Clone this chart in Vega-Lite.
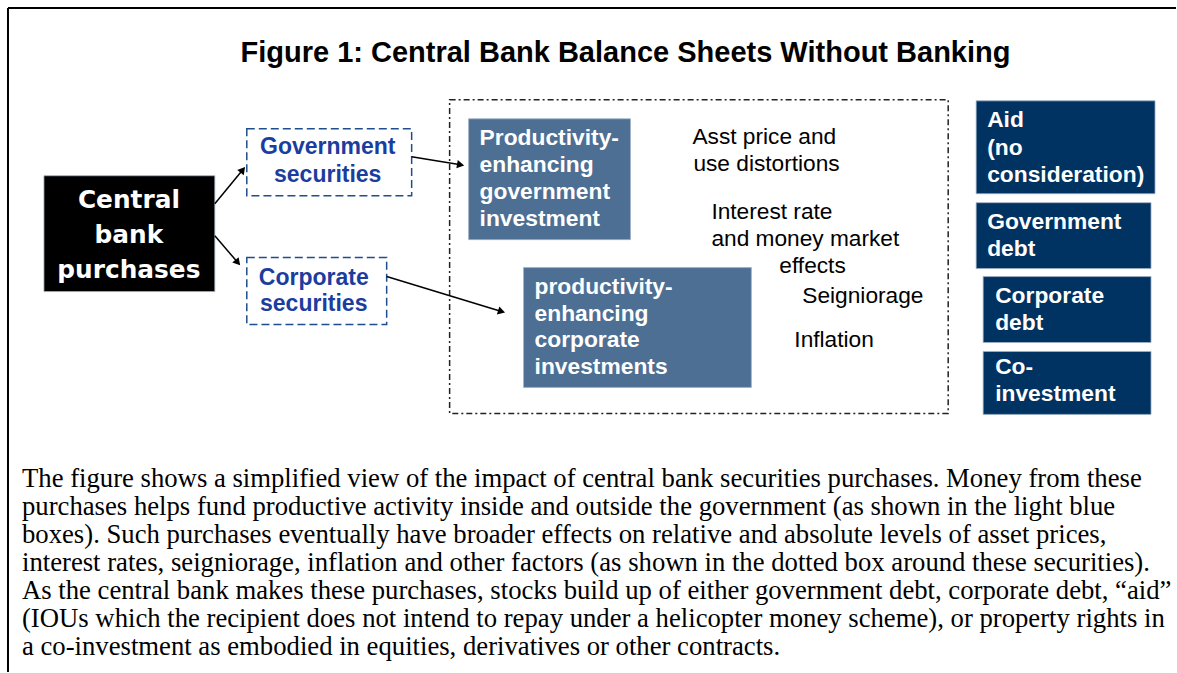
{
  "$schema": "https://vega.github.io/schema/vega-lite/v6.json",
  "width": 1177,
  "height": 673,
  "padding": 0,
  "autosize": {"type": "fit", "contains": "padding"},
  "background": "white",
  "config": {"view": {"stroke": null}},
  "datasets": {
    "frame": [
      {"x": 8, "y": 8, "x2": 1177, "y2": 8},
      {"x": 8, "y": 8, "x2": 8, "y2": 673}
    ],
    "boxes": [
      {"name": "Central bank purchases", "kind": "black", "x": 44, "x2": 215, "y": 176, "y2": 292},
      {"name": "Government securities", "kind": "dashed", "x": 247, "x2": 412, "y": 129, "y2": 196},
      {"name": "Corporate securities", "kind": "dashed", "x": 247, "x2": 387, "y": 258, "y2": 325},
      {"name": "Effects", "kind": "dashdot", "x": 450, "x2": 949, "y": 100, "y2": 414},
      {"name": "Productivity-enhancing government investment", "kind": "light", "x": 469, "x2": 631, "y": 119, "y2": 240},
      {"name": "productivity-enhancing corporate investments", "kind": "light", "x": 524, "x2": 752, "y": 268, "y2": 388},
      {"name": "Aid", "kind": "dark", "x": 977, "x2": 1156, "y": 101, "y2": 194},
      {"name": "Government debt", "kind": "dark", "x": 977, "x2": 1152, "y": 203, "y2": 269},
      {"name": "Corporate debt", "kind": "dark", "x": 984, "x2": 1152, "y": 277, "y2": 343},
      {"name": "Co-investment", "kind": "dark", "x": 984, "x2": 1152, "y": 352, "y2": 415}
    ],
    "arrows": [
      {"x": 215, "y": 204, "x2": 243, "y2": 170, "angle": 39},
      {"x": 215, "y": 236, "x2": 238, "y2": 263, "angle": 139},
      {"x": 412, "y": 157, "x2": 461, "y2": 165, "angle": 100},
      {"x": 387, "y": 277, "x2": 502, "y2": 312, "angle": 107}
    ],
    "labels": [
      {"g": "title", "t": "Figure 1: Central Bank Balance Sheets Without Banking", "x": 626, "y": 53},
      {"g": "cbp", "t": "Central", "x": 129, "y": 201},
      {"g": "cbp", "t": "bank", "x": 129, "y": 236},
      {"g": "cbp", "t": "purchases", "x": 129, "y": 271},
      {"g": "blue", "t": "Government", "x": 328, "y": 147},
      {"g": "blue", "t": "securities", "x": 328, "y": 175},
      {"g": "blue", "t": "Corporate", "x": 314, "y": 278},
      {"g": "blue", "t": "securities", "x": 314, "y": 304},
      {"g": "white", "t": "Productivity-", "x": 480, "y": 138},
      {"g": "white", "t": "enhancing", "x": 480, "y": 165},
      {"g": "white", "t": "government", "x": 480, "y": 192},
      {"g": "white", "t": "investment", "x": 480, "y": 219},
      {"g": "white", "t": "productivity-", "x": 535, "y": 287},
      {"g": "white", "t": "enhancing", "x": 535, "y": 314},
      {"g": "white", "t": "corporate", "x": 535, "y": 341},
      {"g": "white", "t": "investments", "x": 535, "y": 368},
      {"g": "white", "t": "Aid", "x": 988, "y": 120},
      {"g": "white", "t": "(no", "x": 988, "y": 148},
      {"g": "white", "t": "consideration)", "x": 988, "y": 175},
      {"g": "white", "t": "Government", "x": 988, "y": 222},
      {"g": "white", "t": "debt", "x": 988, "y": 249},
      {"g": "white", "t": "Corporate", "x": 996, "y": 296},
      {"g": "white", "t": "debt", "x": 996, "y": 323},
      {"g": "white", "t": "Co-", "x": 996, "y": 368},
      {"g": "white", "t": "investment", "x": 996, "y": 395},
      {"g": "black", "t": "Asst price and", "x": 693, "y": 137},
      {"g": "black", "t": "use distortions", "x": 694, "y": 164},
      {"g": "black", "t": "Interest rate", "x": 712, "y": 212},
      {"g": "black", "t": "and money market", "x": 712, "y": 239},
      {"g": "black", "t": "effects", "x": 780, "y": 266},
      {"g": "black", "t": "Seigniorage", "x": 803, "y": 296},
      {"g": "black", "t": "Inflation", "x": 795, "y": 341},
      {"g": "para", "t": "The figure shows a simplified view of the impact of central bank securities purchases. Money from these", "x": 22, "y": 480},
      {"g": "para", "t": "purchases helps fund productive activity inside and outside the government (as shown in the light blue", "x": 22, "y": 508},
      {"g": "para", "t": "boxes). Such purchases eventually have broader effects on relative and absolute levels of asset prices,", "x": 22, "y": 536},
      {"g": "para", "t": "interest rates, seigniorage, inflation and other factors (as shown in the dotted box around these securities).", "x": 22, "y": 564},
      {"g": "para", "t": "As the central bank makes these purchases, stocks build up of either government debt, corporate debt, “aid”", "x": 22, "y": 592},
      {"g": "para", "t": "(IOUs which the recipient does not intend to repay under a helicopter money scheme), or property rights in", "x": 22, "y": 620},
      {"g": "para", "t": "a co-investment as embodied in equities, derivatives or other contracts.", "x": 22, "y": 648}
    ]
  },
  "encoding": {
    "x": {"field": "x", "type": "quantitative", "scale": {"domain": [0, 1177], "nice": false, "zero": false}, "axis": null},
    "y": {"field": "y", "type": "quantitative", "scale": {"domain": [0, 673], "nice": false, "zero": false, "reverse": true}, "axis": null}
  },
  "layer": [
    {
      "data": {"name": "frame"},
      "mark": {"type": "rule", "color": "black", "strokeWidth": 2},
      "encoding": {"x2": {"field": "x2"}, "y2": {"field": "y2"}}
    },
    {
      "data": {"name": "boxes"},
      "transform": [{"filter": "datum.kind === 'dashdot'"}],
      "mark": {"type": "rect", "fill": "white", "stroke": "#222222", "strokeWidth": 1.5, "strokeDash": [6, 3, 2, 3]},
      "encoding": {"x2": {"field": "x2"}, "y2": {"field": "y2"}}
    },
    {
      "data": {"name": "boxes"},
      "transform": [{"filter": "datum.kind === 'dashed'"}],
      "mark": {"type": "rect", "fill": "white", "stroke": "#1f4e8c", "strokeWidth": 1.5, "strokeDash": [8, 4]},
      "encoding": {"x2": {"field": "x2"}, "y2": {"field": "y2"}}
    },
    {
      "data": {"name": "boxes"},
      "transform": [{"filter": "datum.kind === 'black' || datum.kind === 'light' || datum.kind === 'dark'"}],
      "mark": {"type": "rect", "stroke": "#9fb0c4", "strokeWidth": 0.8},
      "encoding": {
        "x2": {"field": "x2"},
        "y2": {"field": "y2"},
        "fill": {"field": "kind", "type": "nominal", "scale": {"domain": ["black", "light", "dark"], "range": ["#000000", "#4d6f94", "#003262"]}, "legend": null}
      }
    },
    {
      "data": {"name": "arrows"},
      "mark": {"type": "rule", "color": "black", "strokeWidth": 1.5},
      "encoding": {"x2": {"field": "x2"}, "y2": {"field": "y2"}}
    },
    {
      "data": {"name": "arrows"},
      "mark": {"type": "point", "shape": "triangle-up", "filled": true, "color": "black", "opacity": 1, "size": 70},
      "encoding": {
        "x": {"field": "x2", "type": "quantitative"},
        "y": {"field": "y2", "type": "quantitative"},
        "angle": {"field": "angle", "type": "quantitative", "scale": null}
      }
    },
    {
      "data": {"name": "labels"},
      "transform": [{"filter": "datum.g === 'title'"}],
      "mark": {"type": "text", "font": "Liberation Sans", "fontWeight": "bold", "fontSize": 29, "align": "center", "baseline": "middle", "color": "black"},
      "encoding": {"text": {"field": "t"}}
    },
    {
      "data": {"name": "labels"},
      "transform": [{"filter": "datum.g === 'cbp'"}],
      "mark": {"type": "text", "font": "DejaVu Sans", "fontWeight": "bold", "fontSize": 24.8, "align": "center", "baseline": "middle", "color": "white"},
      "encoding": {"text": {"field": "t"}}
    },
    {
      "data": {"name": "labels"},
      "transform": [{"filter": "datum.g === 'blue'"}],
      "mark": {"type": "text", "font": "Liberation Sans", "fontWeight": "bold", "fontSize": 23, "align": "center", "baseline": "middle", "color": "#1b3d9e"},
      "encoding": {"text": {"field": "t"}}
    },
    {
      "data": {"name": "labels"},
      "transform": [{"filter": "datum.g === 'white'"}],
      "mark": {"type": "text", "font": "Liberation Sans", "fontWeight": "bold", "fontSize": 22.8, "align": "left", "baseline": "middle", "color": "white"},
      "encoding": {"text": {"field": "t"}}
    },
    {
      "data": {"name": "labels"},
      "transform": [{"filter": "datum.g === 'black'"}],
      "mark": {"type": "text", "font": "Liberation Sans", "fontSize": 22.7, "align": "left", "baseline": "middle", "color": "black"},
      "encoding": {"text": {"field": "t"}}
    },
    {
      "data": {"name": "labels"},
      "transform": [{"filter": "datum.g === 'para'"}],
      "mark": {"type": "text", "font": "Liberation Serif", "fontSize": 26.7, "align": "left", "baseline": "middle", "color": "black"},
      "encoding": {"text": {"field": "t"}}
    }
  ]
}
